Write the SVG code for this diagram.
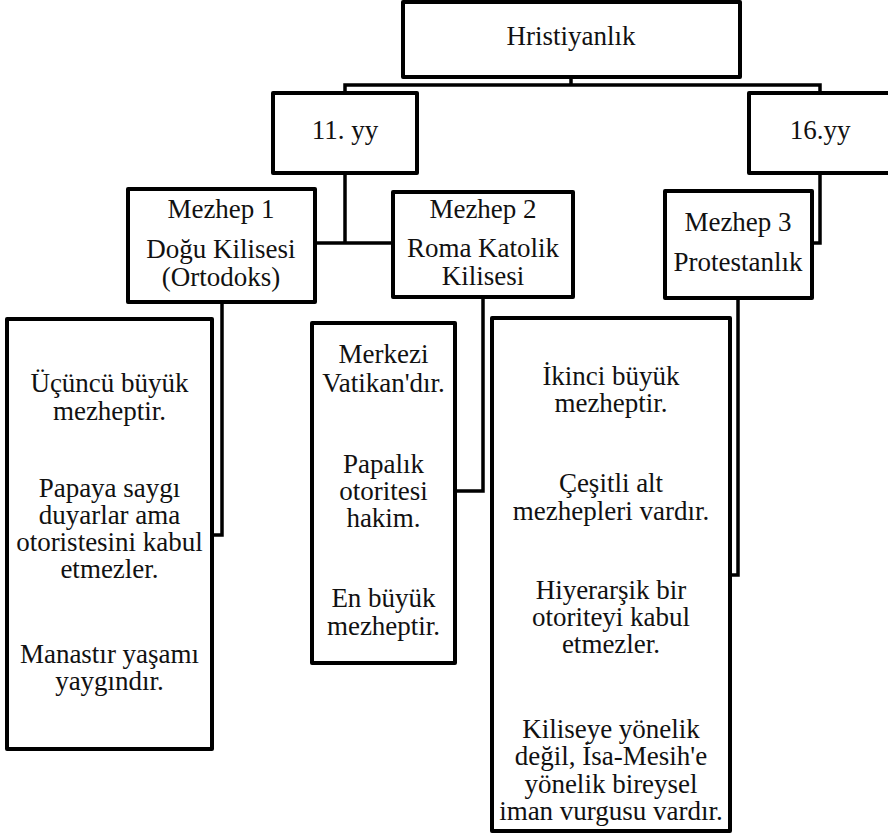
<svg xmlns="http://www.w3.org/2000/svg" width="888" height="836" viewBox="0 0 888 836">
<style>
  .box { fill: #ffffff; stroke: #000000; stroke-width: 4; stroke-linejoin: round; }
  .conn { fill: none; stroke: #000000; stroke-width: 3.5; stroke-linejoin: miter; }
  .t { font-family: "Liberation Serif", "Times New Roman", serif; font-size: 27px; fill: #111111; text-anchor: middle; }
</style>
<rect width="888" height="836" fill="#ffffff"/>
<g id="connectors">
  <path class="conn" d="M571,77 V85"/>
  <path class="conn" d="M345,93 V85 H820 V93"/>
  <path class="conn" d="M345,173 V243"/>
  <path class="conn" d="M315,243 H393"/>
  <path class="conn" d="M820,173 V243 H812"/>
  <path class="conn" d="M222,302 V535 H212"/>
  <path class="conn" d="M483,297 V491 H455"/>
  <path class="conn" d="M738,298 V575 H730"/>
</g>
<g id="hristiyanlik">
  <rect class="box" x="403" y="2" width="337" height="75"/>
  <text class="t" x="571" y="45">Hristiyanlık</text>
</g>
<g id="yy11">
  <rect class="box" x="273" y="93" width="144" height="80"/>
  <text class="t" x="345" y="139">11. yy</text>
</g>
<g id="yy16">
  <rect class="box" x="749" y="93" width="144" height="80"/>
  <text class="t" x="820" y="139">16.yy</text>
</g>
<g id="mezhep1">
  <rect class="box" x="128" y="189" width="187" height="113"/>
  <text class="t" x="221" y="218">Mezhep 1</text>
  <text class="t" x="221" y="258">Doğu Kilisesi</text>
  <text class="t" x="221" y="286">(Ortodoks)</text>
</g>
<g id="mezhep2">
  <rect class="box" x="393" y="192" width="180" height="105"/>
  <text class="t" x="483" y="218">Mezhep 2</text>
  <text class="t" x="483" y="257">Roma Katolik</text>
  <text class="t" x="483" y="285">Kilisesi</text>
</g>
<g id="mezhep3">
  <rect class="box" x="665" y="191" width="147" height="107"/>
  <text class="t" x="738" y="231">Mezhep 3</text>
  <text class="t" x="738" y="271">Protestanlık</text>
</g>
<g id="ortodoks-detail">
  <rect class="box" x="7" y="319" width="205" height="430"/>
  <text class="t" x="109.5" y="392">Üçüncü büyük</text>
  <text class="t" x="109.5" y="420">mezheptir.</text>
  <text class="t" x="109.5" y="497">Papaya saygı</text>
  <text class="t" x="109.5" y="524">duyarlar ama</text>
  <text class="t" x="109.5" y="551">otoristesini kabul</text>
  <text class="t" x="109.5" y="578">etmezler.</text>
  <text class="t" x="109.5" y="663">Manastır yaşamı</text>
  <text class="t" x="109.5" y="690">yaygındır.</text>
</g>
<g id="katolik-detail">
  <rect class="box" x="312" y="323" width="143" height="340"/>
  <text class="t" x="383.5" y="363">Merkezi</text>
  <text class="t" x="383.5" y="392">Vatikan'dır.</text>
  <text class="t" x="383.5" y="473">Papalık</text>
  <text class="t" x="383.5" y="500">otoritesi</text>
  <text class="t" x="383.5" y="527">hakim.</text>
  <text class="t" x="383.5" y="607">En büyük</text>
  <text class="t" x="383.5" y="635">mezheptir.</text>
</g>
<g id="protestan-detail">
  <rect class="box" x="492" y="318" width="238" height="513"/>
  <text class="t" x="611" y="385">İkinci büyük</text>
  <text class="t" x="611" y="412">mezheptir.</text>
  <text class="t" x="611" y="492">Çeşitli alt</text>
  <text class="t" x="611" y="520">mezhepleri vardır.</text>
  <text class="t" x="611" y="599">Hiyerarşik bir</text>
  <text class="t" x="611" y="626">otoriteyi kabul</text>
  <text class="t" x="611" y="653">etmezler.</text>
  <text class="t" x="611" y="738">Kiliseye yönelik</text>
  <text class="t" x="611" y="765">değil, İsa-Mesih'e</text>
  <text class="t" x="611" y="793">yönelik bireysel</text>
  <text class="t" x="611" y="820">iman vurgusu vardır.</text>
</g>
</svg>
